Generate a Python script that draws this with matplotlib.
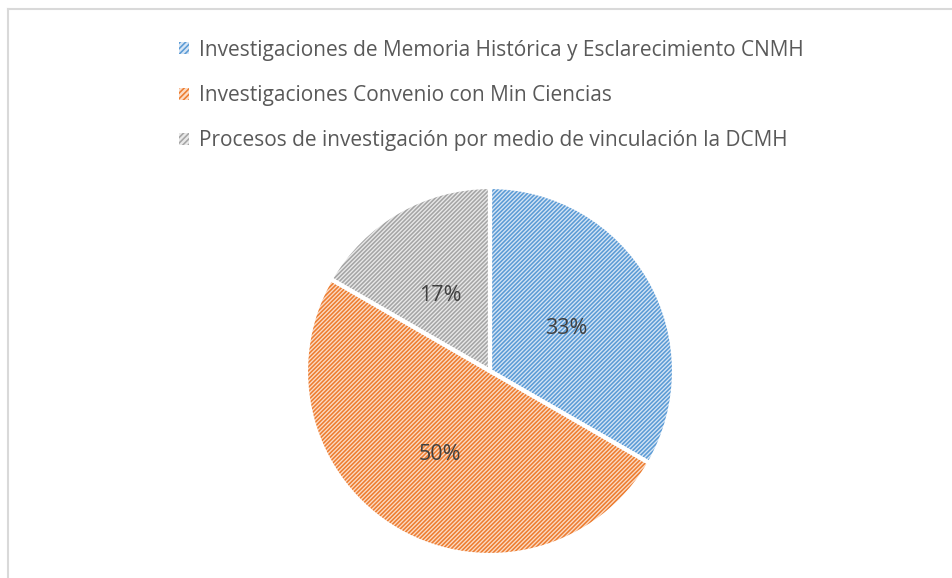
import matplotlib.pyplot as plt
from matplotlib.lines import Line2D
from matplotlib.patches import Patch

# data
categories = [
    "Investigaciones de Memoria Histórica y Esclarecimiento CNMH",
    "Investigaciones Convenio con Min Ciencias",
    "Procesos de investigación por medio de vinculación la DCMH",
]
values = [2, 3, 1]

face_colors = ["#d6e5f5", "#fbdcc6", "#e9e9e9"]
hatch_colors = ["#5b9bd5", "#ed7d31", "#a5a5a5"]

plt.rcParams["font.family"] = ["Open Sans", "DejaVu Sans"]
plt.rcParams["hatch.linewidth"] = 1.15

fig = plt.figure(figsize=(9.53, 5.78), dpi=100)
W, H = 953, 578

# pie centre ~ (490, 371) px, radius ~184 px
cx, cy, r = 490, 371, 184
ax = fig.add_axes([(cx - r) / W, (H - cy - r) / H, 2 * r / W, 2 * r / H])

# base fill
wedges, texts, autotexts = ax.pie(
    values,
    startangle=90,
    counterclock=False,
    colors=face_colors,
    autopct="%1.0f%%",
    pctdistance=0.5,
    radius=1,
    wedgeprops=dict(linewidth=0),
    textprops=dict(fontsize=15.5, color="#404040"),
)
# hatch layer
hw, _ = ax.pie(
    values,
    startangle=90,
    counterclock=False,
    radius=1,
    wedgeprops=dict(linewidth=0, fill=False),
)
for w, hc in zip(hw, hatch_colors):
    w.set_hatch("////////")
    w.set_edgecolor(hc)
# white separators
ew, _ = ax.pie(
    values,
    startangle=90,
    counterclock=False,
    radius=1,
    wedgeprops=dict(linewidth=3, edgecolor="white", fill=False),
)
for t in autotexts:
    t.set_zorder(5)
    x, y = t.get_position()
    t.set_position((x - 0.02, y - 0.02))

ax.set_xlim(-1, 1)
ax.set_ylim(-1, 1)
ax.set_aspect("equal")
ax.axis("off")

# legend
handles = [
    Patch(facecolor=fc, edgecolor=hc, hatch="//////", linewidth=0)
    for fc, hc in zip(face_colors, hatch_colors)
]
fig.legend(
    handles,
    categories,
    loc="upper left",
    bbox_to_anchor=(160 / W, 1 - 21 / H),
    frameon=False,
    fontsize=15,
    labelcolor="#595959",
    handlelength=0.5,
    handleheight=0.5,
    handletextpad=0.45,
    labelspacing=1.17,
)

# chart area border (cropped)
fig.add_artist(Line2D([8 / W, 1.0], [1 - 9 / H, 1 - 9 / H],
                      transform=fig.transFigure, color="#d9d9d9", linewidth=1.5))
fig.add_artist(Line2D([8 / W, 8 / W], [0, 1 - 9 / H],
                      transform=fig.transFigure, color="#d9d9d9", linewidth=1.5))

# cut-off title from above
fig.text(300 / W, 1 + 10 / H, "g", fontsize=18, color="black",
         ha="left", va="baseline")

fig.savefig("out.png", dpi=100)
